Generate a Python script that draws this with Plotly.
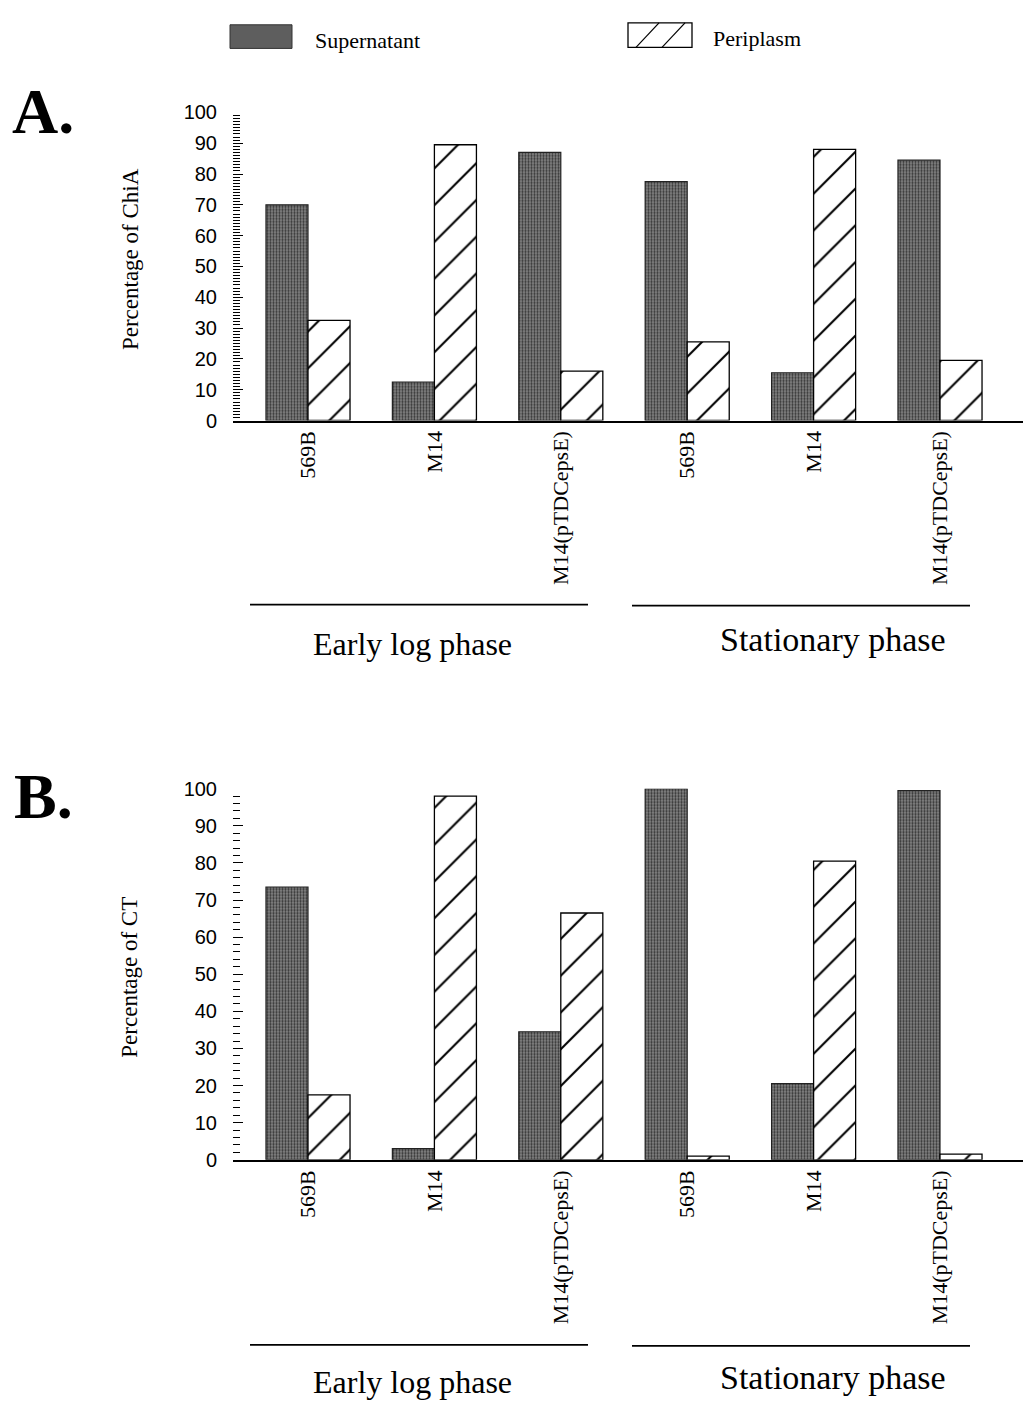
import plotly.graph_objects as go

# ---- data ----
strains = ["569B", "M14", "M14(pTDCepsE)", "569B", "M14", "M14(pTDCepsE)"]
positions = [0, 1, 2, 3, 4, 5]
phases = ["Early log phase", "Stationary phase"]

chia_supernatant = [70, 12.5, 87, 77.5, 15.5, 84.5]
chia_periplasm = [32.5, 89.5, 16, 25.5, 88, 19.5]

ct_supernatant = [73.5, 3, 34.5, 100, 20.5, 99.5]
ct_periplasm = [17.5, 98, 66.5, 1, 80.5, 1.5]

y_ticks = [0, 10, 20, 30, 40, 50, 60, 70, 80, 90, 100]

W, H = 1025, 1410
SERIF = "Liberation Serif, Times New Roman, serif"
SANS = "Liberation Sans, Arial, sans-serif"


def px(x):
    return x / W


def py(y):
    return 1 - y / H


sup_marker = dict(
    color="#606060",
    line=dict(color="#222222", width=1.2),
    pattern=dict(shape=".", fgcolor="#353535", bgcolor="#888888", size=3, solidity=0.45, fillmode="replace"),
)
peri_marker = dict(
    color="white",
    line=dict(color="black", width=1.3),
    pattern=dict(shape="/", fgcolor="black", bgcolor="white", size=26, solidity=0.08, fillmode="replace"),
)

fig = go.Figure()
fig.add_trace(go.Bar(x=positions, y=chia_supernatant, name="Supernatant", marker=sup_marker,
                     xaxis="x", yaxis="y", offsetgroup="s", showlegend=False))
fig.add_trace(go.Bar(x=positions, y=chia_periplasm, name="Periplasm", marker=peri_marker,
                     xaxis="x", yaxis="y", offsetgroup="p", showlegend=False))
fig.add_trace(go.Bar(x=positions, y=ct_supernatant, name="Supernatant", marker=sup_marker,
                     xaxis="x2", yaxis="y2", offsetgroup="s", showlegend=False))
fig.add_trace(go.Bar(x=positions, y=ct_periplasm, name="Periplasm", marker=peri_marker,
                     xaxis="x2", yaxis="y2", offsetgroup="p", showlegend=False))

x_left, x_right = 233, 1023
xdom = [px(x_left), px(x_right)]
# group centre 0 at 308 px, spacing 126.4 px
xrange = [(x_left - 308) / 126.4, (x_right - 308) / 126.4]


def xaxis_cfg(anchor):
    return dict(
        domain=xdom, range=xrange, anchor=anchor,
        tickmode="array", tickvals=positions, ticktext=strains,
        tickangle=-90, ticks="", showgrid=False, zeroline=False,
        showline=True, linecolor="black", linewidth=1.6,
        tickfont=dict(family=SERIF, size=22, color="black"),
        fixedrange=True,
    )


def yaxis_cfg(anchor, dom, minor_dtick):
    return dict(
        domain=dom, range=[0, 100], anchor=anchor,
        tickmode="array", tickvals=y_ticks,
        ticks="inside", ticklen=10, tickwidth=1.2, tickcolor="black",
        minor=dict(dtick=minor_dtick, tick0=0, ticks="inside", ticklen=7, tickwidth=1, tickcolor="black"),
        showline=False, showgrid=False, zeroline=False,
        tickfont=dict(family=SANS, size=20, color="black"),
        ticklabelstandoff=15,
        fixedrange=True,
    )


fig.update_layout(
    width=W, height=H,
    margin=dict(l=0, r=0, t=0, b=0),
    paper_bgcolor="white", plot_bgcolor="white",
    barmode="group", bargap=0.335, bargroupgap=0,
    xaxis=xaxis_cfg("y"),
    yaxis=yaxis_cfg("x", [py(416), py(103)], 1),
    xaxis2=xaxis_cfg("y2"),
    yaxis2=yaxis_cfg("x2", [py(1167), py(790)], 2),
    showlegend=False,
)

annotations = []
shapes = []


def note(text, x, y, size, family=SERIF, angle=0, xanchor="center"):
    annotations.append(dict(text=text, x=px(x), y=py(y), xref="paper", yref="paper",
                            xanchor=xanchor, yanchor="middle", showarrow=False, textangle=angle,
                            font=dict(family=family, size=size, color="black")))


# panel letters
note("<b>A.</b>", 43, 102, 64)
note("<b>B.</b>", 43, 798, 64)

# y titles
note("Percentage of ChiA", 130, 252, 23, angle=-90)
note("Percentage of CT", 130, 982, 23, angle=-90)

# phase lines and labels
for (ly, ty_e, ty_s) in [(603, 643, 638), (1355, 1393, 1388)]:
    shapes.append(dict(type="line", xref="paper", yref="paper", x0=px(250), x1=px(588), y0=py(ly), y1=py(ly),
                       line=dict(color="black", width=1.6)))
    shapes.append(dict(type="line", xref="paper", yref="paper", x0=px(632), x1=px(970), y0=py(ly + 1), y1=py(ly + 1),
                       line=dict(color="black", width=1.6)))
    note(phases[0], 412, ty_e, 32)
    note(phases[1], 833, ty_s, 34)

# legend swatches
shapes.append(dict(type="rect", xref="paper", yref="paper", x0=px(230), x1=px(292), y0=py(38), y1=py(14),
                   fillcolor="#5e5e5e", line=dict(color="#333333", width=1)))
shapes.append(dict(type="rect", xref="paper", yref="paper", x0=px(628), x1=px(692), y0=py(37), y1=py(12),
                   fillcolor="white", line=dict(color="black", width=1.3)))
for (a, b) in [(636, 659), (662, 685)]:
    shapes.append(dict(type="line", xref="paper", yref="paper", x0=px(a), x1=px(b), y0=py(37), y1=py(12),
                       line=dict(color="black", width=1.2)))
note("Supernatant", 313, 30, 22, xanchor="left")
note("Periplasm", 711, 28, 22, xanchor="left")

fig.update_layout(annotations=annotations, shapes=shapes)

fig.write_html(
    "out.html",
    config={"displayModeBar": False},
    post_script="document.body.style.margin='0';document.body.style.overflow='hidden';",
)
